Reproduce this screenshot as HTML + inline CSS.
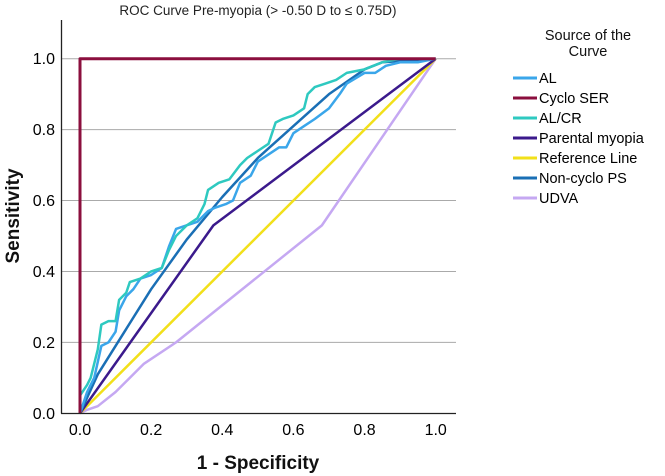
<!DOCTYPE html>
<html><head><meta charset="utf-8"><style>
body{margin:0;background:#fff;}
svg{display:block;font-family:"Liberation Sans",Arial,sans-serif;}
</style></head><body>
<svg id="chart" width="665" height="476" viewBox="0 0 665 476">
<text x="258" y="15" text-anchor="middle" font-size="13.5" fill="#222">ROC Curve Pre-myopia (&gt; -0.50 D to ≤ 0.75D)</text>
<g id="grid"></g>
<g id="series"></g>
<line x1="61.5" y1="20" x2="61.5" y2="413.5" stroke="#222" stroke-width="1.3"/>
<line x1="61" y1="413.5" x2="456" y2="413.5" stroke="#222" stroke-width="1.3"/>
<g id="ticks"></g>
<text x="258" y="469" text-anchor="middle" font-size="19" font-weight="bold" fill="#111">1 - Specificity</text>
<text transform="translate(19,216) rotate(-90)" text-anchor="middle" font-size="19" font-weight="bold" fill="#111">Sensitivity</text>
<text x="588" y="40" text-anchor="middle" font-size="14.5" fill="#111">Source of the</text>
<text x="588" y="56" text-anchor="middle" font-size="14.5" fill="#111">Curve</text>
<g id="legend"></g>
</svg>
<script>
const tickValues = [0, 0.2, 0.4, 0.6, 0.8, 1.0];
const tickLabels = ["0.0","0.2","0.4","0.6","0.8","1.0"];
const seriesNames = ["AL","Cyclo SER","AL/CR","Parental myopia","Reference Line","Non-cyclo PS","UDVA"];
const seriesColors = ["#3aa6ea","#8b0f3e","#2ec9c0","#3b1a8c","#f2e01a","#1a6fb5","#c5a8f2"];
const alX = [0,0.02,0.04,0.06,0.08,0.1,0.11,0.13,0.15,0.17,0.2,0.23,0.25,0.27,0.3,0.33,0.36,0.38,0.41,0.43,0.45,0.48,0.5,0.53,0.56,0.58,0.6,0.63,0.66,0.7,0.73,0.75,0.8,0.83,0.86,0.9,0.95,1];
const alY = [0,0.06,0.1,0.19,0.2,0.23,0.29,0.33,0.35,0.38,0.39,0.41,0.47,0.52,0.53,0.54,0.57,0.58,0.59,0.6,0.65,0.67,0.71,0.73,0.75,0.75,0.79,0.81,0.83,0.86,0.9,0.93,0.96,0.96,0.98,0.99,0.99,1];
const cycloX = [0,0,1];
const cycloY = [0,1,1];
const alcrX = [0,0,0.02,0.03,0.05,0.06,0.08,0.1,0.11,0.13,0.14,0.17,0.2,0.23,0.25,0.27,0.3,0.33,0.35,0.36,0.39,0.42,0.45,0.47,0.5,0.53,0.55,0.57,0.6,0.63,0.64,0.66,0.69,0.72,0.75,0.8,0.85,0.9,1];
const alcrY = [0,0.05,0.08,0.1,0.18,0.25,0.26,0.26,0.32,0.34,0.37,0.38,0.4,0.41,0.46,0.5,0.53,0.55,0.59,0.63,0.65,0.66,0.7,0.72,0.74,0.76,0.82,0.83,0.84,0.86,0.9,0.92,0.93,0.94,0.96,0.97,0.99,1,1];
const parX = [0,0.375,1];
const parY = [0,0.53,1];
const refX = [0,1];
const refY = [0,1];
const ncX = [0,0.05,0.1,0.2,0.3,0.4,0.5,0.6,0.7,0.8,0.85,1];
const ncY = [0,0.11,0.19,0.35,0.49,0.61,0.72,0.81,0.9,0.97,0.99,1];
const udX = [0,0.02,0.05,0.1,0.18,0.27,0.68,1];
const udY = [0,0.01,0.02,0.06,0.14,0.2,0.53,1];

const NS="http://www.w3.org/2000/svg";
const X0=80, X1=435.7, Y0=413.3, Y1=58.7;
function sx(v){return X0+(X1-X0)*v;}
function sy(v){return Y0-(Y0-Y1)*v;}
const grid=document.getElementById('grid');
const ticks=document.getElementById('ticks');
tickValues.forEach((v,i)=>{
  if(v>0){
    const l=document.createElementNS(NS,'line');
    l.setAttribute('x1',61);l.setAttribute('x2',456);
    l.setAttribute('y1',sy(v));l.setAttribute('y2',sy(v));
    l.setAttribute('stroke','#aaa');l.setAttribute('stroke-width','1');
    
    
    grid.appendChild(l);
  }
  const ty=document.createElementNS(NS,'text');
  ty.setAttribute('x',55);ty.setAttribute('y',sy(v)+5.5);
  ty.setAttribute('text-anchor','end');ty.setAttribute('font-size','16');
  ty.textContent=tickLabels[i];
  
  
  ticks.appendChild(ty);
  const tx=document.createElementNS(NS,'text');
  tx.setAttribute('x',sx(v));tx.setAttribute('y',435);
  tx.setAttribute('text-anchor','middle');tx.setAttribute('font-size','16');
  tx.textContent=tickLabels[i];
  
  
  ticks.appendChild(tx);
});
const data=[[alX,alY],[cycloX,cycloY],[alcrX,alcrY],[parX,parY],[refX,refY],[ncX,ncY],[udX,udY]];
const order=[6,4,3,5,0,2,1];
const sg=document.getElementById('series');
order.forEach(i=>{
  const [xs,ys]=data[i];
  const p=document.createElementNS(NS,'polyline');
  p.setAttribute('points',xs.map((x,k)=>sx(x)+','+sy(ys[k])).join(' '));
  p.setAttribute('fill','none');p.setAttribute('stroke',seriesColors[i]);
  p.setAttribute('stroke-width',i===1?'3':'2.5');p.setAttribute('stroke-linejoin','round');
  
  
  sg.appendChild(p);
});
const lg=document.getElementById('legend');
seriesNames.forEach((n,i)=>{
  const y=78+i*20;
  const l=document.createElementNS(NS,'line');
  l.setAttribute('x1',513);l.setAttribute('x2',537);l.setAttribute('y1',y);l.setAttribute('y2',y);
  l.setAttribute('stroke',seriesColors[i]);l.setAttribute('stroke-width','3');
  
  
  lg.appendChild(l);
  const t=document.createElementNS(NS,'text');
  t.setAttribute('x',539);t.setAttribute('y',y+5);t.setAttribute('font-size','14.5');
  t.textContent=n;
  
  
  lg.appendChild(t);
});
</script>
</body></html>
